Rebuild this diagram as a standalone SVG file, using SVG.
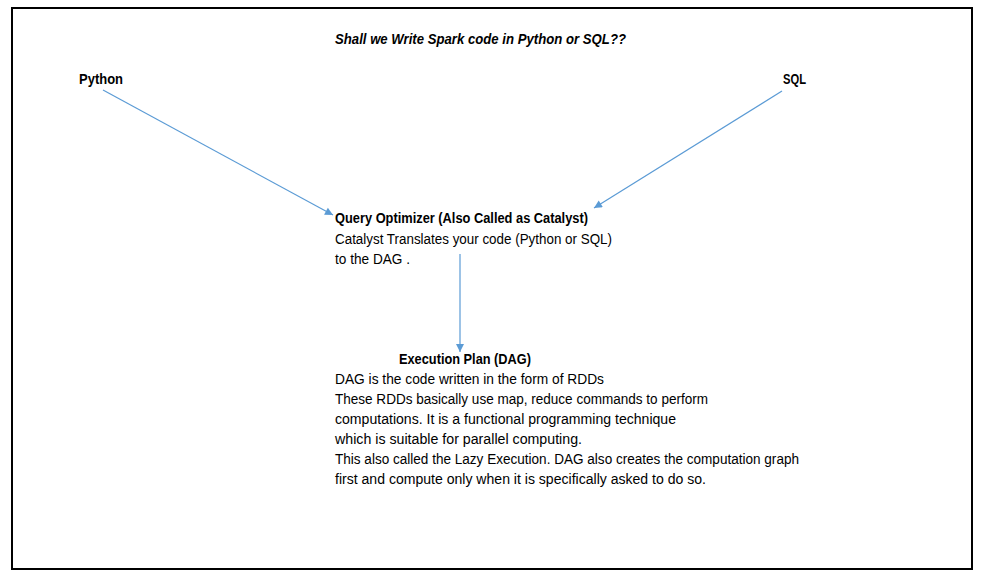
<svg xmlns="http://www.w3.org/2000/svg" width="984" height="580" viewBox="0 0 984 580">
<defs>
<marker id="ah" viewBox="0 0 10 10" refX="10" refY="5" markerWidth="10" markerHeight="8" markerUnits="userSpaceOnUse" orient="auto">
<path d="M0,0 L10,5 L0,10 z" fill="#5B9BD5"/>
</marker>
<style>
text{font-family:"Liberation Sans",Arial,sans-serif;font-size:14px;fill:#000}
.b{font-weight:bold}
.t{font-weight:bold;font-style:italic}
.c{stroke:#5B9BD5;stroke-width:1.2;fill:none;marker-end:url(#ah)}
</style>
</defs>
<rect x="0" y="0" width="984" height="580" fill="#fff"/>
<rect x="12" y="8" width="960" height="561" fill="none" stroke="#000" stroke-width="2"/>
<g id="title"><text class="t" x="335" y="44" textLength="291" lengthAdjust="spacingAndGlyphs">Shall we Write Spark code in Python or SQL??</text></g>
<g id="python"><text class="b" x="79" y="84" textLength="44" lengthAdjust="spacingAndGlyphs">Python</text></g>
<g id="sql"><text class="b" x="783" y="84" textLength="23" lengthAdjust="spacingAndGlyphs">SQL</text></g>
<g id="optimizer">
<text class="b" x="335" y="223" textLength="253" lengthAdjust="spacingAndGlyphs">Query Optimizer (Also Called as Catalyst)</text>
<text x="335" y="244" textLength="277" lengthAdjust="spacingAndGlyphs">Catalyst Translates your code (Python or SQL)</text>
<text x="335" y="264" textLength="75" lengthAdjust="spacingAndGlyphs">to the DAG .</text>
</g>
<g id="dag">
<text class="b" x="399" y="364" textLength="132" lengthAdjust="spacingAndGlyphs">Execution Plan (DAG)</text>
<text x="335" y="384" textLength="269" lengthAdjust="spacingAndGlyphs">DAG is the code written in the form of RDDs</text>
<text x="335" y="404" textLength="373" lengthAdjust="spacingAndGlyphs">These RDDs basically use map, reduce commands to perform</text>
<text x="335" y="424" textLength="341" lengthAdjust="spacingAndGlyphs">computations. It is a functional programming technique</text>
<text x="335" y="444" textLength="247" lengthAdjust="spacingAndGlyphs">which is suitable for parallel computing.</text>
<text x="335" y="464" textLength="464" lengthAdjust="spacingAndGlyphs">This also called the Lazy Execution. DAG also creates the computation graph</text>
<text x="335" y="484" textLength="371" lengthAdjust="spacingAndGlyphs">first and compute only when it is specifically asked to do so.</text>
</g>
<g id="connectors">
<line class="c" x1="103" y1="90" x2="333" y2="215"/>
<line class="c" x1="782" y1="91" x2="594" y2="208"/>
<line class="c" x1="460" y1="254" x2="460" y2="352"/>
</g>
</svg>
